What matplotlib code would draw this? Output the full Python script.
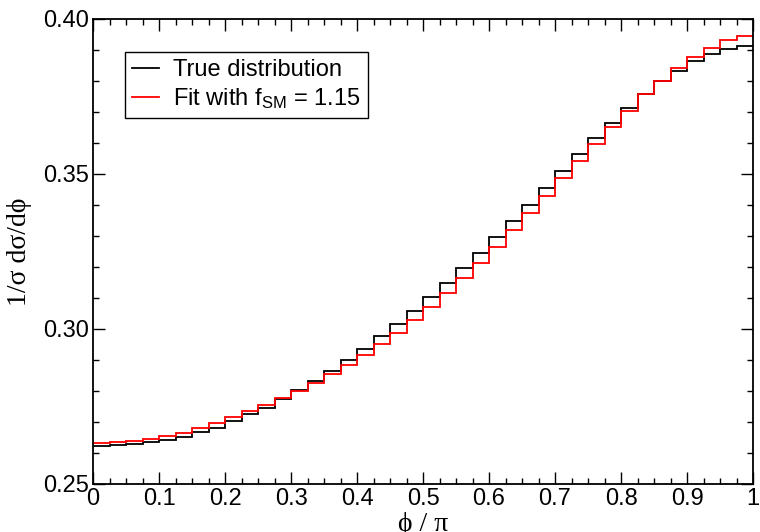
import numpy as np
import matplotlib
matplotlib.use("Agg")
import matplotlib.pyplot as plt
from matplotlib.lines import Line2D
from matplotlib.ticker import MultipleLocator, FormatStrFormatter

# ---- data ----
bin_edges = np.linspace(0.0, 1.0, 41)
true_dist = [0.26237, 0.26258, 0.26290, 0.26355, 0.26430, 0.26516, 0.26667, 0.26817,
             0.27022, 0.27247, 0.27465, 0.27732, 0.28032, 0.28313, 0.28635, 0.28990,
             0.29355, 0.29755, 0.30174, 0.30581, 0.31023, 0.31484, 0.31948, 0.32442,
             0.32948, 0.33470, 0.33990, 0.34539, 0.35087, 0.35626, 0.36142, 0.36645,
             0.37110, 0.37566, 0.37980, 0.38323, 0.38635, 0.38860, 0.39023, 0.39130]
fit_dist = [0.26323, 0.26344, 0.26376, 0.26452, 0.26538, 0.26656, 0.26817, 0.26968,
            0.27161, 0.27344, 0.27539, 0.27774, 0.28013, 0.28271, 0.28561, 0.28852,
            0.29174, 0.29506, 0.29852, 0.30280, 0.30700, 0.31161, 0.31626, 0.32119,
            0.32645, 0.33184, 0.33722, 0.34290, 0.34851, 0.35410, 0.35963, 0.36516,
            0.37032, 0.37566, 0.37990, 0.38400, 0.38755, 0.39055, 0.39303, 0.39432]
label_true = "True distribution"
label_fit = r"Fit with f$_\mathregular{SM}$ = 1.15"

plt.rcParams['font.family'] = ['Liberation Sans', 'DejaVu Sans']
plt.rcParams['mathtext.default'] = 'regular'

fig = plt.figure(figsize=(7.6, 5.32), dpi=100)
ax = fig.add_axes([93/760, 1-484/532, 660/760, (484-18.7)/532])

ax.stairs(true_dist, bin_edges, baseline=None, color='black', linewidth=1.3)
ax.stairs(fit_dist, bin_edges, baseline=None, color='#ff0000', linewidth=1.3)

ax.set_xlim(0, 1)
ax.set_ylim(0.25, 0.40)
ax.xaxis.set_major_locator(MultipleLocator(0.1))
ax.xaxis.set_minor_locator(MultipleLocator(0.025))
ax.yaxis.set_major_locator(MultipleLocator(0.05))
ax.yaxis.set_minor_locator(MultipleLocator(0.01))
ax.yaxis.set_major_formatter(FormatStrFormatter('%.2f'))
ax.xaxis.set_major_formatter(matplotlib.ticker.FuncFormatter(
    lambda v, p: '0' if abs(v) < 1e-9 else ('1' if abs(v-1) < 1e-9 else f'{v:.1f}')))

ax.tick_params(which='both', direction='in', top=True, right=True, width=1.0)
ax.tick_params(which='major', length=8.5, labelsize=17, pad=3)
ax.tick_params(which='minor', length=4.3)
for s in ax.spines.values():
    s.set_linewidth(1.3)

serif = ['Liberation Serif', 'DejaVu Serif']
ax.set_ylabel("1/\u03c3 d\u03c3/d\u03d5", fontsize=20, family=serif, labelpad=8)
ax.set_xlabel("\u03d5 / \u03c0", fontsize=20, family=serif, labelpad=1)

handles = [Line2D([], [], color='black', linewidth=1.3),
           Line2D([], [], color='#ff0000', linewidth=1.3)]
leg = ax.legend(handles, [label_true, label_fit], loc='upper left',
                bbox_to_anchor=(32/660, (484-52)/465.3), borderaxespad=0,
                fontsize=17, frameon=True, fancybox=False, edgecolor='black',
                framealpha=1, handlelength=1.15, handletextpad=0.6,
                borderpad=0.3, labelspacing=0.2)
leg.get_frame().set_linewidth(1.0)

fig.savefig("out.png", dpi=100)
